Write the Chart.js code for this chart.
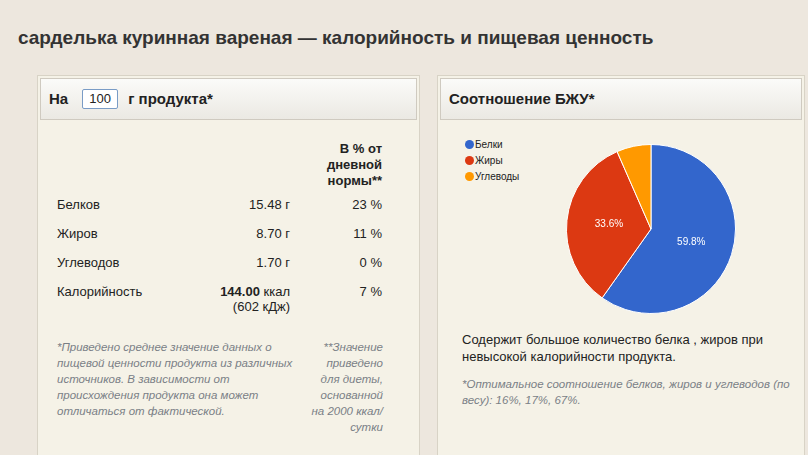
<!DOCTYPE html>
<html>
<head>
<meta charset="utf-8">
<script src="https://cdn.jsdelivr.net/npm/chart.js@4"></script>
<style>
  body { margin:0; width:808px; height:455px; background:#ede7de; font-family:Arial, "Liberation Sans", sans-serif; color:#222; position:relative; overflow:hidden; }
  .abs { position:absolute; }
  h1 { position:absolute; left:18px; top:27px; margin:0; font-size:19px; font-weight:bold; color:#333; }
  .panel { position:absolute; top:75px; height:390px; background:#f5f2e7; border:1px solid #d8d3c6; }
  .head { position:absolute; left:2px; right:2px; top:2px; height:40px; background:linear-gradient(#fbfbf9,#ebe9e3); border:1px solid #cfcac0; font-size:15px; font-weight:bold; line-height:40px; padding-left:8px; }
  .inp { display:inline-block; width:34px; height:18px; line-height:18px; border:1px solid #7a9cc6; background:#fff; text-align:center; font-weight:normal; font-size:13px; margin:0 10px 0 14px; border-radius:2px; vertical-align:middle; position:relative; top:-1px; }
  .t { position:absolute; font-size:13px; }
  .note { position:absolute; font-size:11.5px; font-style:italic; color:#7a7f86; line-height:16px; }
  .leg { position:absolute; font-size:10px; color:#222; }
  .leg i { position:absolute; left:-10px; top:1px; width:9px; height:9px; border-radius:50%; }
</style>
</head>
<body>
<h1>сарделька куринная вареная — калорийность и пищевая ценность</h1>

<div class="panel" style="left:37px; width:381px;">
  <div class="head">На<span class="inp">100</span>г продукта*</div>
</div>
<div class="t" style="left:300px; top:141px; width:82px; text-align:right; font-weight:bold; line-height:16px;">В % от<br>дневной<br>нормы**</div>
<div class="t" style="left:57px; top:197px;">Белков</div>
<div class="t" style="left:180px; top:197px; width:110px; text-align:right;">15.48 г</div>
<div class="t" style="left:300px; top:197px; width:82px; text-align:right;">23 %</div>
<div class="t" style="left:57px; top:226px;">Жиров</div>
<div class="t" style="left:180px; top:226px; width:110px; text-align:right;">8.70 г</div>
<div class="t" style="left:300px; top:226px; width:82px; text-align:right;">11 %</div>
<div class="t" style="left:57px; top:255px;">Углеводов</div>
<div class="t" style="left:180px; top:255px; width:110px; text-align:right;">1.70 г</div>
<div class="t" style="left:300px; top:255px; width:82px; text-align:right;">0 %</div>
<div class="t" style="left:57px; top:284px;">Калорийность</div>
<div class="t" style="left:170px; top:284px; width:120px; text-align:right; line-height:15px;"><b>144.00</b> ккал<br>(602 кДж)</div>
<div class="t" style="left:300px; top:284px; width:82px; text-align:right;">7 %</div>
<div class="note" style="left:57px; top:339px; width:240px;">*Приведено среднее значение данных о пищевой ценности продукта из различных источников. В зависимости от происхождения продукта она может отличаться от фактической.</div>
<div class="note" style="left:308px; top:339px; width:75px; text-align:right;">**Значение приведено для диеты, основанной на 2000 ккал/ сутки</div>

<div class="panel" style="left:437px; width:366px;">
  <div class="head">Соотношение БЖУ*</div>
</div>
<div id="legend"></div>
<div class="abs" style="left:566px; top:144px; width:170px; height:170px;"><canvas id="pie"></canvas></div>
<div class="t" style="left:462px; top:331px; width:330px; line-height:17px;">Содержит большое количество белка , жиров при невысокой калорийности продукта.</div>
<div class="note" style="left:462px; top:376px; width:330px;">*Оптимальное соотношение белков, жиров и углеводов (по весу): 16%, 17%, 67%.</div>

<script>
const labels = ['Белки', 'Жиры', 'Углеводы'];
const grams = [15.48, 8.70, 1.70];
const colors = ['#3366cc', '#dc3912', '#ff9900'];

// legend as html
const legendEl = document.getElementById('legend');
labels.forEach((l, i) => {
  const d = document.createElement('div');
  d.className = 'leg';
  d.style.left = '475px';
  d.style.top = (139 + i * 16) + 'px';
  d.innerHTML = `<i style="background:${colors[i]}"></i>${l}`;
  legendEl.appendChild(d);
});

// percent labels inside slices
const sliceLabels = {
  id: 'sliceLabels',
  afterDatasetsDraw(chart) {
    const ctx = chart.ctx;
    const meta = chart.getDatasetMeta(0);
    const total = grams.reduce((a, b) => a + b, 0);
    ctx.save();
    ctx.fillStyle = '#fff';
    ctx.font = '10px Arial';
    ctx.textAlign = 'center';
    ctx.textBaseline = 'middle';
    meta.data.forEach((arc, i) => {
      const pct = grams[i] / total * 100;
      if (pct < 8) return;
      const p = arc.tooltipPosition();
      ctx.fillText(pct.toFixed(1) + '%', p.x, p.y);
    });
    ctx.restore();
  }
};

new Chart(document.getElementById('pie'), {
  type: 'pie',
  data: {
    labels: labels,
    datasets: [{ data: grams, backgroundColor: colors, borderColor: '#ffffff', borderWidth: 1 }]
  },
  options: {
    responsive: true,
    maintainAspectRatio: false,
    animation: false,
    plugins: { legend: { display: false }, tooltip: { enabled: false } }
  },
  plugins: [sliceLabels]
});
</script>
</body>
</html>
